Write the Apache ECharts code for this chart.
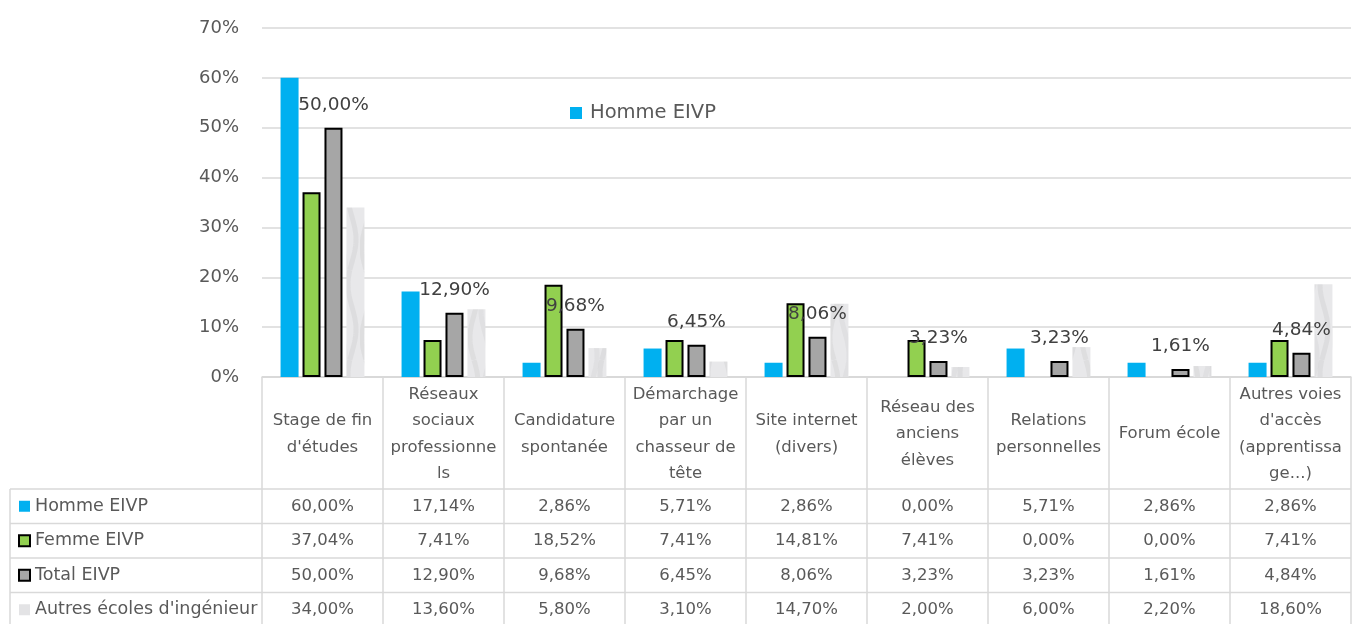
<!DOCTYPE html>
<html>
<head>
<meta charset="utf-8">
<script src="https://cdn.jsdelivr.net/npm/echarts@6/dist/echarts.min.js"></script>
<style>
  html, body { margin: 0; padding: 0; background: #fff; }
  #chart { width: 1352px; height: 624px; }
</style>
</head>
<body>
<div id="chart"></div>
<script>
// categories, as in the data table header (line breaks as in the picture)
const categories = [
    "Stage de fin\nd'études",
    "Réseaux\nsociaux\nprofessionne\nls",
    "Candidature\nspontanée",
    "Démarchage\npar un\nchasseur de\ntête",
    "Site internet\n(divers)",
    "Réseau des\nanciens\nélèves",
    "Relations\npersonnelles",
    "Forum école",
    "Autres voies\nd'accès\n(apprentissa\nge...)"
];

const seriesNames = ["Homme EIVP", "Femme EIVP", "Total EIVP", "Autres écoles d'ingénieur"];

const hommeEIVP = [60.00, 17.14, 2.86, 5.71, 2.86, 0.00, 5.71, 2.86, 2.86];
const femmeEIVP = [37.04, 7.41, 18.52, 7.41, 14.81, 7.41, 0.00, 0.00, 7.41];
const totalEIVP = [50.00, 12.90, 9.68, 6.45, 8.06, 3.23, 3.23, 1.61, 4.84];
const autresEcoles = [34.00, 13.60, 5.80, 3.10, 14.70, 2.00, 6.00, 2.20, 18.60];

const yMin = 0, yMax = 70, yStep = 10;

const textColor = '#595959';
const lineColor = '#d9d9d9';
const fontFamily = '"DejaVu Sans", sans-serif';

function fmt(v) {
    return v.toFixed(2).replace('.', ',') + '%';
}

// light grey "marble" fill, like the Excel texture
function marbleCanvas() {
    const c = document.createElement('canvas');
    c.width = 36; c.height = 90;
    const g = c.getContext('2d');
    g.fillStyle = '#e8e8ea';
    g.fillRect(0, 0, c.width, c.height);
    const veins = [[6, 0.0, 'rgba(175,175,180,0.18)'], [17, 1.9, 'rgba(190,190,195,0.18)'], [28, 3.7, 'rgba(165,165,170,0.16)']];
    veins.forEach(([x0, ph, col]) => {
        g.strokeStyle = col;
        g.lineWidth = 5;
        g.beginPath();
        for (let y = 0; y <= c.height; y += 2) {
            const x = x0 + 4 * Math.sin(y * 2 * Math.PI / c.height + ph);
            if (y === 0) g.moveTo(x, y); else g.lineTo(x, y);
        }
        g.stroke();
    });
    return c;
}

const marble = marbleCanvas();

const styles = [
    { color: '#00b0f0', borderColor: '#00b0f0', borderWidth: 0 },
    { color: '#92d050', borderColor: '#000', borderWidth: 2 },
    { color: '#a6a6a6', borderColor: '#000', borderWidth: 2 },
    { color: { image: marble, repeat: 'repeat' }, borderColor: '#e0e0e0', borderWidth: 0 }
];
const swatchFill = ['#00b0f0', '#92d050', '#a6a6a6', '#e3e3e5'];

const allValues = [hommeEIVP, femmeEIVP, totalEIVP, autresEcoles];

const chart = echarts.init(document.getElementById('chart'));

const option = {
    animation: false,
    textStyle: { fontFamily: fontFamily },
    grid: { left: 262, right: 1, top: 28, bottom: 247, containLabel: false },
    legend: {
        data: ['Homme EIVP'],
        left: 565,
        top: 98,
        icon: 'rect',
        itemWidth: 12,
        itemHeight: 12,
        textStyle: { fontSize: 19.5, color: textColor, fontFamily: fontFamily, padding: [0, 0, 0, 3] }
    },
    xAxis: {
        type: 'category',
        data: categories,
        axisLabel: { show: false },
        axisTick: { show: false },
        axisLine: { lineStyle: { color: lineColor, width: 1.5 } }
    },
    yAxis: {
        type: 'value',
        min: yMin,
        max: yMax,
        interval: yStep,
        axisLabel: { formatter: '{value}%', fontSize: 18, color: textColor, margin: 23 },
        axisLine: { show: false },
        axisTick: { show: false },
        splitLine: { lineStyle: { color: lineColor, width: 1.5 } }
    },
    series: seriesNames.map((name, s) => ({
        name: name,
        type: 'bar',
        barWidth: 18,
        barGap: '22%',
        itemStyle: styles[s],
        data: allValues[s].map(v => (v === 0 ? '-' : v)),
        label: s === 2 ? {
            show: true,
            position: 'top',
            distance: 13,
            fontSize: 18.5,
            color: '#404040',
            formatter: p => fmt(p.value)
        } : { show: false }
    }))
};

chart.setOption(option);

// data table under the plot, laid out from the category axis
function buildTable() {
    const y0 = chart.convertToPixel({ yAxisIndex: 0 }, yMin);
    const c0 = chart.convertToPixel({ xAxisIndex: 0 }, categories[0]);
    const c1 = chart.convertToPixel({ xAxisIndex: 0 }, categories[1]);
    const band = c1 - c0;
    const left = c0 - band / 2;
    const right = left + band * categories.length;
    const tableLeft = 10;
    const headerH = 112;
    const rowH = 34.5;
    const bodyTop = y0 + headerH;
    const bottom = bodyTop + rowH * seriesNames.length;

    const els = [];
    const line = (x1, y1, x2, y2) => els.push({
        type: 'line', silent: true,
        shape: { x1, y1, x2, y2 },
        style: { stroke: lineColor, lineWidth: 1.5 }
    });
    const text = (t, x, y, align, size) => els.push({
        type: 'text', silent: true,
        style: {
            text: t, x, y, align: align, verticalAlign: 'middle',
            fill: textColor, fontSize: size, fontFamily: fontFamily, lineHeight: 26.5
        }
    });

    // grid lines of the table
    line(left, y0, right, y0);
    for (let r = 0; r <= seriesNames.length; r++) {
        line(tableLeft, bodyTop + r * rowH, right, bodyTop + r * rowH);
    }
    line(tableLeft, bodyTop, tableLeft, bottom);
    for (let i = 0; i <= categories.length; i++) {
        line(left + i * band, y0, left + i * band, bottom);
    }

    // header
    categories.forEach((cat, i) => {
        text(cat, left + band * (i + 0.5), y0 + headerH / 2 + 1, 'center', 16.5);
    });

    // rows
    seriesNames.forEach((name, s) => {
        const cy = bodyTop + rowH * (s + 0.5);
        const st = styles[s];
        els.push({
            type: 'rect', silent: true,
            shape: { x: 19, y: cy - 5.5, width: 11, height: 11 },
            style: {
                fill: swatchFill[s],
                stroke: st.borderWidth ? '#000' : null,
                lineWidth: st.borderWidth ? 2 : 0
            }
        });
        text(name, 35, cy, 'left', 17.5);
        allValues[s].forEach((v, i) => {
            text(fmt(v), left + band * (i + 0.5), cy, 'center', 16.5);
        });
    });

    chart.setOption({ graphic: els });
}

buildTable();
</script>
</body>
</html>
